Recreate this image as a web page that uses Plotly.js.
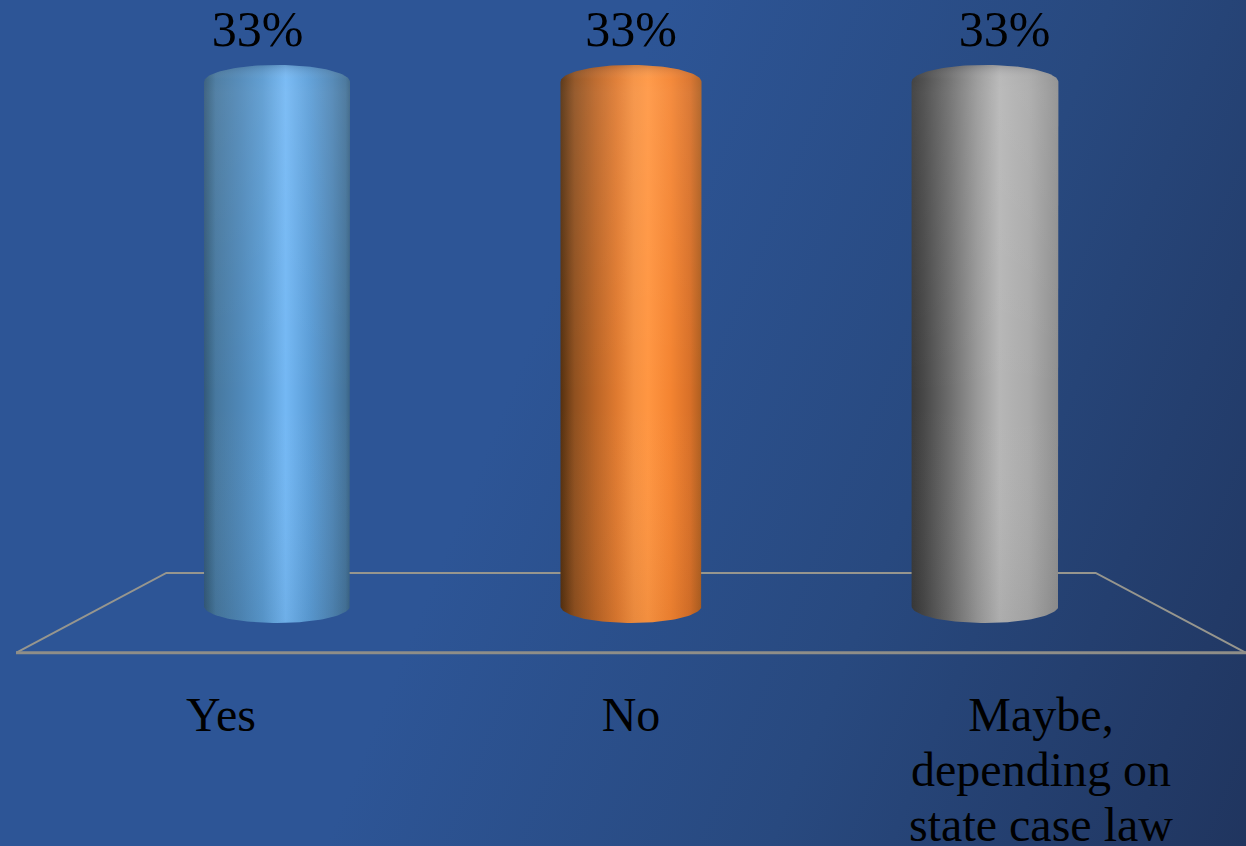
<!DOCTYPE html>
<html>
<head>
<meta charset="utf-8">
<script src="https://cdn.plot.ly/plotly-3.0.1.min.js"></script>
<style>
  html, body { margin: 0; padding: 0; width: 1246px; height: 846px; overflow: hidden; }
  body { background: linear-gradient(112deg, #2d5596 0%, #2d5596 42%, #28497f 70%, #20355f 100%); }
  #chart { width: 1246px; height: 846px; }
</style>
</head>
<body>
<div id="chart"></div>
<script>
// Poll results, one share per answer
const categories = ['Yes', 'No', 'Maybe,<br>depending on<br>state case law'];
const shares = [33, 33, 33];

// Lighting across each cylinder, left edge to right edge
const blueShade = [[0, '#33597a'], [0.03, '#3a6585'], [0.08, '#47789f'], [0.25, '#4f88b8'], [0.4, '#5a9ad0'], [0.56, '#74b8f4'], [0.72, '#5c9ed8'], [0.88, '#4f85b4'], [0.97, '#44739a'], [1, '#3a6485']];
const orangeShade = [[0, '#55300f'], [0.1, '#8f501f'], [0.25, '#bb6526'], [0.4, '#df7a30'], [0.52, '#f59040'], [0.62, '#ff9642'], [0.78, '#f48431'], [0.92, '#d87028'], [1, '#ad5e20']];
const greyShade = [[0, '#393939'], [0.08, '#474747'], [0.25, '#6b6b6b'], [0.45, '#999999'], [0.6, '#b6b6b6'], [0.8, '#aaaaaa'], [1, '#8f8f8f']];
const shades = [blueShade, orangeShade, greyShade];

// Perspective of the chart box: how far each plane shrinks towards the middle category
const middle = 1;
const barDepth = 0.8634;
const labelDepth = 0.911;
const floorBackDepth = 0.7556;
const floorBackY = 2.08;
const floorFrontY = -2.95;

// Cylinder proportions in axis units
const halfWidths = [0.178, 0.172, 0.179];
const capHeight = 1.07;

function cylinderOutline(cx, halfW, top) {
  const xs = [], ys = [];
  const steps = 60;
  for (let i = 0; i <= steps; i++) {          // upper rim, left to right
    const a = Math.PI * i / steps;
    xs.push(cx - halfW * Math.cos(a));
    ys.push(top + capHeight * Math.sin(a));
  }
  for (let i = 0; i <= steps; i++) {          // lower rim, right to left
    const a = Math.PI * i / steps;
    xs.push(cx + halfW * Math.cos(a));
    ys.push(-capHeight * Math.sin(a));
  }
  xs.push(xs[0]); ys.push(ys[0]);
  return { xs, ys };
}

const floorBack = {
  type: 'scatter', mode: 'lines', hoverinfo: 'skip', showlegend: false,
  x: [middle - 1.5, middle - 1.5 * floorBackDepth, middle + 1.5 * floorBackDepth, middle + 1.5],
  y: [floorFrontY, floorBackY, floorBackY, floorFrontY],
  line: { color: '#97968e', width: 2 }
};
const floorFront = {
  type: 'scatter', mode: 'lines', hoverinfo: 'skip', showlegend: false,
  x: [middle - 1.5, middle + 1.5],
  y: [floorFrontY, floorFrontY],
  line: { color: '#8f8e88', width: 3 }
};

const traces = [floorBack, floorFront];
shares.forEach((share, i) => {
  const cx = middle + (i - middle) * barDepth;
  const o = cylinderOutline(cx, halfWidths[i], share);
  traces.push({
    type: 'scatter', mode: 'lines', fill: 'toself', hoverinfo: 'skip', showlegend: false,
    x: o.xs, y: o.ys, line: { width: 0 },
    fillgradient: { type: 'horizontal', colorscale: shades[i] }
  });
  // Soft highlight towards the top, dimmer base, shaded rim on the cap
  traces.push({
    type: 'scatter', mode: 'lines', fill: 'toself', hoverinfo: 'skip', showlegend: false,
    x: o.xs, y: o.ys, line: { width: 0 },
    fillgradient: {
      type: 'vertical',
      colorscale: [[0, 'rgba(0,0,0,0.05)'], [0.4, 'rgba(255,255,255,0)'], [0.95, 'rgba(255,255,255,0.07)'], [0.975, 'rgba(255,255,255,0.05)'], [1, 'rgba(50,50,60,0.2)']]
    }
  });
});

traces.push({
  type: 'scatter', mode: 'text', cliponaxis: false, hoverinfo: 'skip', showlegend: false,
  x: shares.map((_, i) => middle + (i - middle) * labelDepth),
  y: shares.map(v => v + 3.05),
  text: shares.map(v => v + '%'),
  textposition: 'middle center',
  textfont: { family: '"Liberation Serif", serif', size: 50, color: '#000000' }
});

const layout = {
  width: 1246, height: 846,
  margin: { l: 16, r: 0, t: 0, b: 186, pad: 0 },
  paper_bgcolor: 'rgba(0,0,0,0)',
  plot_bgcolor: 'rgba(0,0,0,0)',
  showlegend: false,
  xaxis: {
    type: 'linear', range: [-0.5, 2.5],
    tickmode: 'array', tickvals: categories.map((_, i) => i), ticktext: categories,
    showgrid: false, zeroline: false, showline: false, ticks: '',
    ticklabelstandoff: 22,
    tickangle: 0,
    tickfont: { family: '"Liberation Serif", serif', size: 48, color: '#000000' }
  },
  yaxis: {
    visible: false, range: [-3.4, 38.16], fixedrange: true
  }
};

Plotly.newPlot('chart', traces, layout, { staticPlot: true, displayModeBar: false }).then(gd => {
  // Tighter line spacing inside the multi-line category label
  gd.querySelectorAll('.xtick text').forEach(t => {
    t.querySelectorAll('tspan.line').forEach((line, n) => {
      if (n > 0) line.setAttribute('dy', (n * 1.146) + 'em');
    });
  });
});
</script>
</body>
</html>
